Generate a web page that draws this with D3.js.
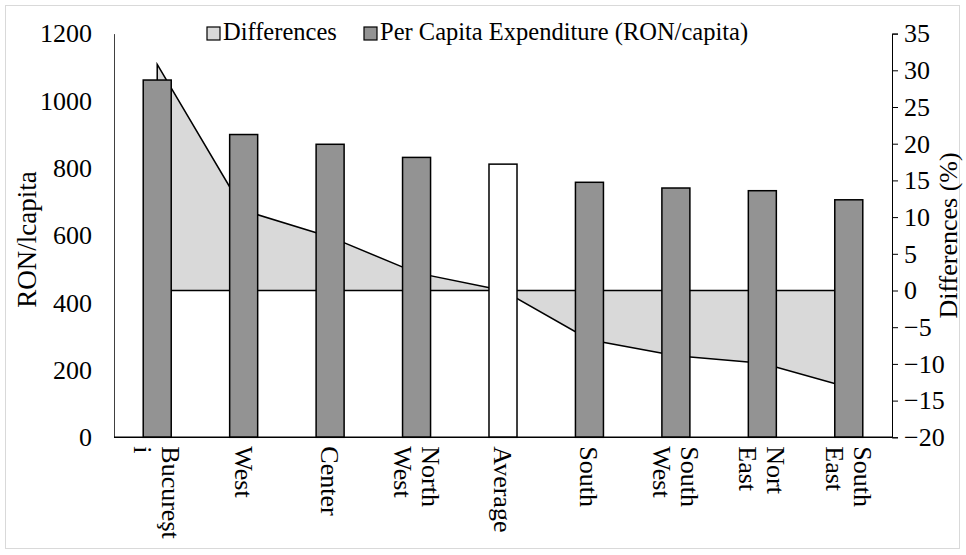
<!DOCTYPE html>
<html>
<head>
<meta charset="utf-8">
<script src="https://cdn.jsdelivr.net/npm/d3@7/dist/d3.min.js"></script>
<style>
  body { margin: 0; background: #fff; }
  svg text { font-family: 'Liberation Serif', 'Times New Roman', serif; fill: #000; }
</style>
</head>
<body>
<svg id="chart" width="966" height="555"></svg>
<script>
// regions, sorted the way the original chart has them
var regions = [
  ["Bucureşt", "i"],
  ["West"],
  ["Center"],
  ["North", "West"],
  ["Average"],
  ["South"],
  ["South", "West"],
  ["Nort", "East"],
  ["South", "East"]
];
var expenditure = [1062, 900, 871, 832, 812, 758, 741, 733, 706];
var differences = [30.8, 10.9, 7.3, 2.4, 0, -6.7, -8.9, -9.9, -13.2];
var leftTicks = [0, 200, 400, 600, 800, 1000, 1200];
var rightTicks = [-20, -15, -10, -5, 0, 5, 10, 15, 20, 25, 30, 35];

var data = regions.map(function(r, i) {
  return { key: r.join(" "), lines: r, value: expenditure[i], diff: differences[i] };
});

var svg = d3.select("#chart"),
  margin = { top: 33.6, right: 74, bottom: 117.7, left: 114 },
  width = +svg.attr("width") - margin.left - margin.right,
  height = +svg.attr("height") - margin.top - margin.bottom;

var barColor = "#939393",
  areaColor = "#d9d9d9",
  font = "'Liberation Serif', 'Times New Roman', serif";

// outer frame
svg.append("rect")
  .attr("x", 5.5)
  .attr("y", 5.5)
  .attr("width", 954)
  .attr("height", 543)
  .attr("fill", "none")
  .attr("stroke", "#d9d9d9");

var x = d3.scaleBand()
  .domain(data.map(function(d) { return d.key; }))
  .range([0, width])
  .paddingInner(0.676)
  .paddingOuter(0.338);

var xc = function(d) { return x(d.key) + x.bandwidth() / 2; };

var y = d3.scaleLinear().domain([0, 1200]).range([height, 0]);
var y2 = d3.scaleLinear().domain([-20, 35]).range([height, 0]);

var g = svg.append("g")
  .attr("transform", "translate(" + margin.left + "," + margin.top + ")");

// differences area (drawn behind the bars)
var area = d3.area()
  .x(xc)
  .y0(y2(0))
  .y1(function(d) { return y2(d.diff); });

g.append("path")
  .datum(data)
  .attr("d", function(d) { return area(d) + "Z"; })
  .attr("fill", areaColor)
  .attr("stroke", "#000")
  .attr("stroke-width", 1.5)
  .attr("stroke-linejoin", "miter");

// bars
g.selectAll(".bar")
  .data(data)
  .enter()
  .append("rect")
  .attr("class", "bar")
  .attr("x", function(d) { return x(d.key); })
  .attr("width", x.bandwidth())
  .attr("y", function(d) { return y(d.value); })
  .attr("height", function(d) { return height - y(d.value); })
  .attr("fill", function(d) { return d.key === "Average" ? "#fff" : barColor; })
  .attr("stroke", "#000")
  .attr("stroke-width", 1.5);

// left axis (no ticks)
var yAxis = g.append("g")
  .call(d3.axisLeft(y).tickValues(leftTicks).tickFormat(d3.format("d")).tickSize(0).tickPadding(22));
yAxis.attr("font-family", font).attr("font-size", 26);
yAxis.select(".domain").attr("stroke", "#404040");

// right axis
var y2Axis = g.append("g")
  .attr("transform", "translate(" + width + ",0)")
  .call(d3.axisRight(y2).tickValues(rightTicks).tickFormat(d3.format("d")).tickSize(6).tickSizeOuter(6).tickPadding(6));
y2Axis.attr("font-family", font).attr("font-size", 26);
y2Axis.selectAll("line, .domain").attr("stroke", "#000");

// baseline
g.append("line")
  .attr("x1", 0)
  .attr("x2", width)
  .attr("y1", height)
  .attr("y2", height)
  .attr("stroke", "#000")
  .attr("stroke-width", 1.5);

// category labels, rotated
var labels = g.selectAll(".xlabel")
  .data(data)
  .enter()
  .append("text")
  .attr("class", "xlabel")
  .attr("transform", function(d) {
    return "translate(" + xc(d) + "," + (height + 9) + ") rotate(90)";
  })
  .attr("font-family", font)
  .attr("font-size", 26);

labels.selectAll("tspan")
  .data(function(d) {
    return d.lines.map(function(l, i) { return { text: l, i: i, n: d.lines.length }; });
  })
  .enter()
  .append("tspan")
  .attr("x", 0)
  .attr("y", function(t) { return (t.i - (t.n - 1) / 2) * 28 + 9; })
  .text(function(t) { return t.text; });

// axis titles
svg.append("text")
  .attr("transform", "translate(27," + (margin.top + height / 2 + 4) + ") rotate(-90)")
  .attr("text-anchor", "middle")
  .attr("dy", "0.35em")
  .attr("font-family", font)
  .attr("font-size", 27)
  .text("RON/lcapita");

svg.append("text")
  .attr("transform", "translate(948," + (margin.top + height / 2) + ") rotate(-90)")
  .attr("text-anchor", "middle")
  .attr("dy", "0.35em")
  .attr("font-family", font)
  .attr("font-size", 26)
  .text("Differences (%)");

// legend
var legend = svg.append("g").attr("transform", "translate(207,27)");
var items = [
  { label: "Differences", fill: areaColor, x: 0 },
  { label: "Per Capita Expenditure (RON/capita)", fill: barColor, x: 157 }
];
var li = legend.selectAll("g")
  .data(items)
  .enter()
  .append("g")
  .attr("transform", function(d) { return "translate(" + d.x + ",0)"; });
li.append("rect")
  .attr("width", 13)
  .attr("height", 13)
  .attr("fill", function(d) { return d.fill; })
  .attr("stroke", "#000")
  .attr("stroke-width", 1.2);
li.append("text")
  .attr("x", 16)
  .attr("y", 13)
  .attr("font-family", font)
  .attr("font-size", 24.5)
  .text(function(d) { return d.label; });
</script>
</body>
</html>
